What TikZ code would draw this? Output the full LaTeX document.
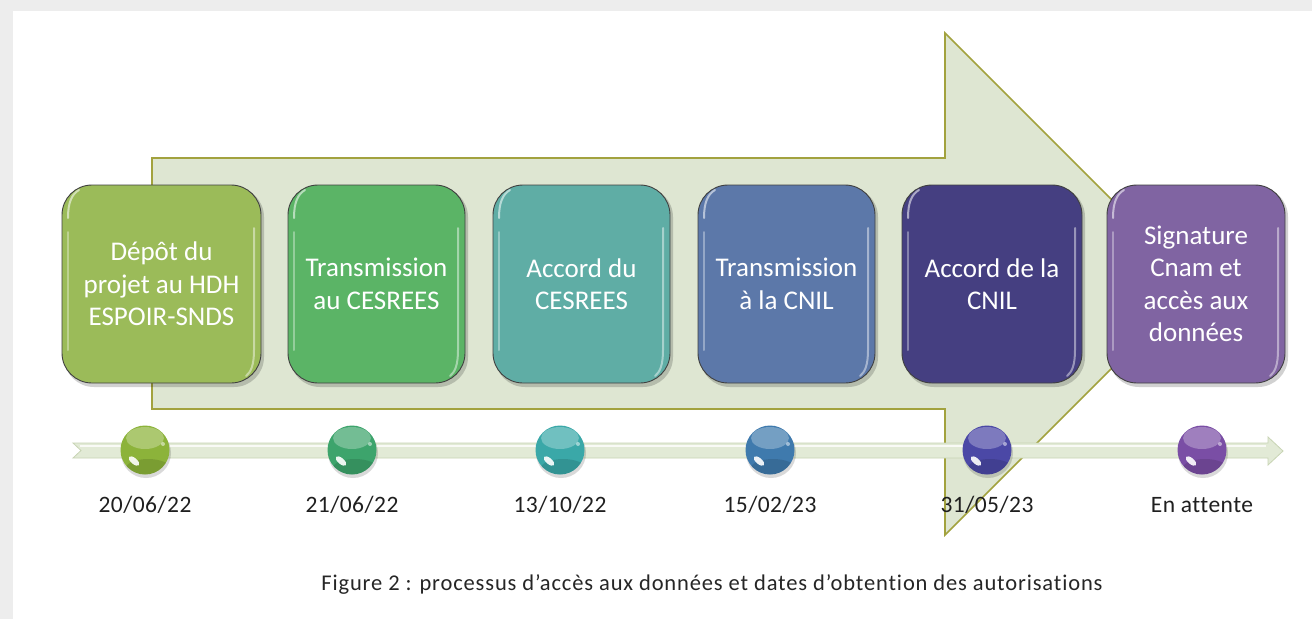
\documentclass[tikz,border=0pt]{standalone}
\usepackage{fontspec}
\setmainfont[Ligatures=NoCommon]{Carlito}
\newfontfamily\capfont[Ligatures=NoCommon,LetterSpace=3.8]{Carlito}
\newfontfamily\datefont[Ligatures=NoCommon,LetterSpace=2]{Carlito}
\definecolor{arrowfill}{HTML}{DEE6D2}
\definecolor{arrowline}{HTML}{A2A23E}
\definecolor{cA}{HTML}{9BBB59}
\definecolor{cB}{HTML}{5BB466}
\definecolor{cC}{HTML}{5FADA5}
\definecolor{cD}{HTML}{5C78A9}
\definecolor{cE}{HTML}{453F81}
\definecolor{cF}{HTML}{8064A2}
\definecolor{dA}{HTML}{8CB33A}
\definecolor{dB}{HTML}{3DA46C}
\definecolor{dC}{HTML}{3AA8A8}
\definecolor{dD}{HTML}{3F7AAD}
\definecolor{dE}{HTML}{4B48A6}
\definecolor{dF}{HTML}{7A4EA5}
\definecolor{barfill}{HTML}{E2EAD6}
\definecolor{baredge}{HTML}{C8D4B4}
\newcommand\procbox[5]{%
  \fill[black, opacity=.18, rounded corners=30pt] (#2+2,187) rectangle (#3+3,387);
  \node[stepbox, fill=#4, minimum width={#3-#2}, minimum height=198pt] (#1) at ({(#2+#3)/2},284) {#5};
  \draw[hl] (#2+6,218) .. controls (#2+6,202) and (#2+10,194) .. (#2+17,190);
  \draw[hl, opacity=.35] (#2+6,232) -- (#2+6,350);
  \draw[hl, opacity=.45] (#3-7,228) -- (#3-7,350) .. controls (#3-7,365) and (#3-10,372) .. (#3-15,376);
}
\newcommand\dotmark[4]{%
  \fill[black, opacity=.15] (#2+1,453) circle (25);
  \node[dotball, fill=#3] (#1) at (#2,450) {};
  \begin{scope}
    \clip (#2,450) circle (24.5);
    \fill[white, opacity=.28] (#2,438) ellipse (19 and 11);
    \fill[black, opacity=.12] (#2+3,468) ellipse (22 and 9);
  \end{scope}
  \fill[white, opacity=.9, rotate around={-40:(#2-11,461)}] (#2-11,461) ellipse (6.5 and 3);
  \fill[white, opacity=.5] (#2+18,444) circle (2);
  \node[datelbl] (#1t) at (#2,505) {#4};
}
\begin{document}
\begin{tikzpicture}[x=1pt,y=-1pt,
  stepbox/.style={draw=black!75, line width=0.9pt, rounded corners=30pt, text=white,
    align=center, inner sep=0pt, font=\fontsize{27}{32.5}\selectfont},
  dotball/.style={circle, minimum size=49pt, inner sep=0pt},
  datelbl/.style={font=\datefont\fontsize{23.5}{26}\selectfont, text=black!88, inner sep=0pt},
  hl/.style={white, line width=2pt, opacity=.55, line cap=round}]
\useasboundingbox (0,0) rectangle (1312,619);
\fill[black!7] (0,0) rectangle (1312,619);
\fill[white] (13,11) rectangle (1312,619);
% big arrow
\draw[draw=arrowline, fill=arrowfill, line width=1.6pt, line join=miter]
  (152,158) -- (945,158) -- (945,33) -- (1196,284) -- (945,535) -- (945,409) -- (152,409) -- cycle;
% timeline bar
\draw[draw=baredge, fill=barfill, line width=0.8pt]
  (73,443) -- (1268,443) -- (1268,437) -- (1283,451) -- (1268,465) -- (1268,458) -- (73,458) -- (81,450.5) -- cycle;
\draw[white, line width=2pt, opacity=.8] (80,446) -- (1266,446);
% boxes
\procbox{b1}{62}{261}{cA}{Dépôt du\\projet au HDH\\ESPOIR-SNDS}
\procbox{b2}{288}{465}{cB}{Transmission\\au CESREES}
\procbox{b3}{493}{670}{cC}{Accord du\\CESREES}
\procbox{b4}{698}{875}{cD}{Transmission\\à la CNIL}
\procbox{b5}{902}{1082}{cE}{Accord de la\\CNIL}
\procbox{b6}{1107}{1285}{cF}{Signature\\Cnam et\\accès aux\\données}
% balls
\dotmark{d1}{145}{dA}{20/06/22}
\dotmark{d2}{352}{dB}{21/06/22}
\dotmark{d3}{560}{dC}{13/10/22}
\dotmark{d4}{770}{dD}{15/02/23}
\dotmark{d5}{987}{dE}{31/05/23}
\dotmark{d6}{1202}{dF}{En attente}
\node[font=\capfont\fontsize{22.5}{25}\selectfont, text=black!85, inner sep=0pt] (cap) at (712,584)
  {Figure 2 : processus d’accès aux données et dates d’obtention des autorisations};
\end{tikzpicture}
\end{document}
